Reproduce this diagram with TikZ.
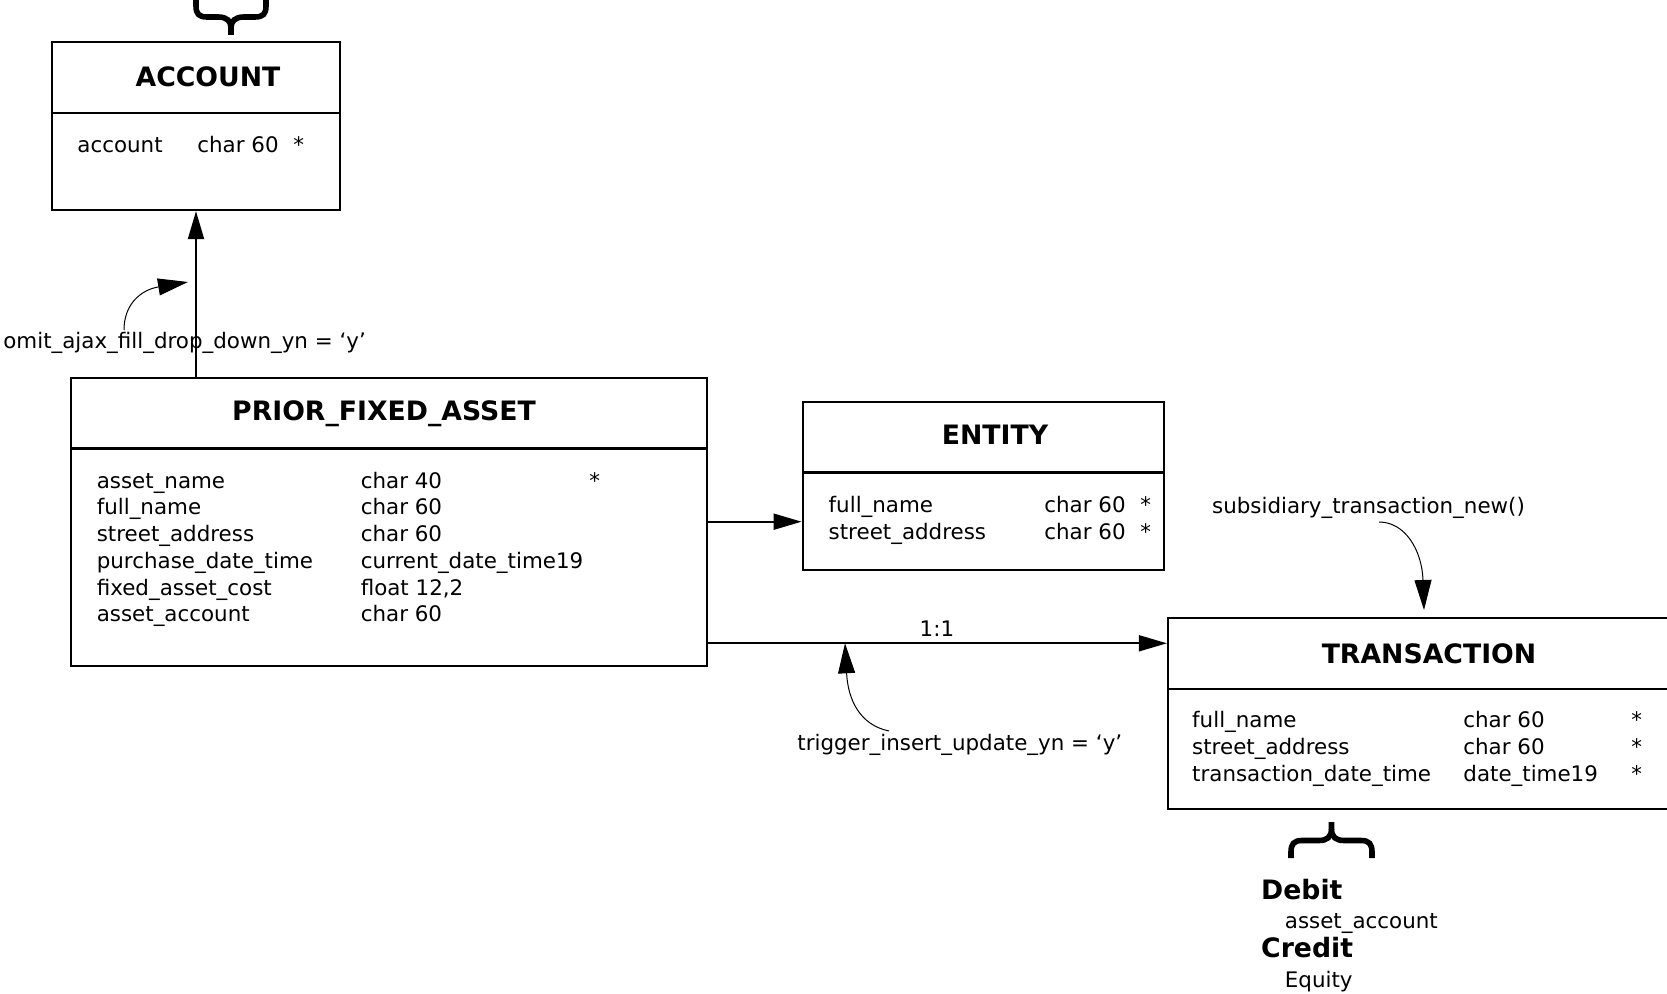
\documentclass[tikz,border=0pt]{standalone}
\usepackage{fontspec}
\setmainfont{DejaVu Sans}
\usetikzlibrary{arrows.meta,positioning}
\tikzset{
  entbox/.style={draw,line width=1.1pt,inner sep=0pt},
  divider/.style={line width=1.1pt},
  titletext/.style={font=\bfseries\fontsize{13.35}{16}\selectfont,anchor=base,inner sep=0pt},
  fieldtext/.style={font=\fontsize{10.7}{13}\selectfont,anchor=base west,inner sep=0pt},
  link/.style={-{Triangle[length=14pt,width=8pt]},line width=0.9pt},
  notearrow/.style={-{Triangle[length=15pt,width=8.5pt]},line width=0.5pt},
  bracestroke/.style={line width=2.8pt},
}

\begin{document}
\begin{tikzpicture}[x=0.5pt,y=-0.5pt]
    \useasboundingbox (0,0) rectangle (1667,994);

    % ACCOUNT
    \node[entbox,minimum width=144pt,minimum height=84pt] (account) at (196,126) {};
    \draw[divider] ([yshift=-36pt]account.north west) -- ([yshift=-36pt]account.north east);
    \node[titletext] (accounttitle) at (208,86.7) {ACCOUNT};
    \node[fieldtext] (accountf1) at (77,153) {account};
    \node[fieldtext] (accountt1) at (197,153) {char 60};
    \node[fieldtext] (accounts1) at (293,153) {*};
    % brace above ACCOUNT
    \draw[bracestroke] (196,-4) -- (196,6) .. controls (196,14) and (199,17) .. (207,17)
        -- (218,17) .. controls (227,17) and (231,21) .. (231,28) -- (231,35);
    \draw[bracestroke] (266,-4) -- (266,6) .. controls (266,14) and (263,17) .. (255,17)
        -- (244,17) .. controls (235,17) and (231,21) .. (231,28);

    % PRIOR_FIXED_ASSET
    \node[entbox,minimum width=318pt,minimum height=144pt] (pfa) at (389,521.7) {};
    \draw[divider] ([yshift=-36pt]pfa.north west) -- ([yshift=-36pt]pfa.north east);
    \node[titletext] (pfatitle) at (384,420.7) {PRIOR\_FIXED\_ASSET};
    \foreach \fname/\ftype [count=\i] in {asset\_name/char 40, full\_name/char 60,
        street\_address/char 60, purchase\_date\_time/current\_date\_time19,
        fixed\_asset\_cost/{float 12,2}, asset\_account/char 60} {
        \node[fieldtext] (pfaf\i) at (96.4,{488.3+26.7*(\i-1)}) {\fname};
        \node[fieldtext] (pfat\i) at (360.4,{488.3+26.7*(\i-1)}) {\ftype};
    }
    \node[fieldtext] (pfas1) at (589,488.3) {*};

    % ENTITY
    \node[entbox,minimum width=180.65pt,minimum height=84.15pt] (entity) at (983.35,485.85) {};
    \draw[divider] ([yshift=-36pt]entity.north west) -- ([yshift=-36pt]entity.north east);
    \node[titletext] (entitytitle) at (995,444.3) {ENTITY};
    \foreach \fname [count=\i] in {full\_name, street\_address} {
        \node[fieldtext] (entityf\i) at (828.3,{512.7+26.6*(\i-1)}) {\fname};
        \node[fieldtext] (entityt\i) at (1044,{512.7+26.6*(\i-1)}) {char 60};
        \node[fieldtext] (entitys\i) at (1140,{512.7+26.6*(\i-1)}) {*};
    }

    % TRANSACTION
    \node[entbox,minimum width=261pt,minimum height=95.5pt] (trans) at (1429,713.8) {};
    \draw[divider] ([yshift=-36pt]trans.north west) -- ([yshift=-36pt]trans.north east);
    \node[titletext] (transtitle) at (1429,663.3) {TRANSACTION};
    \foreach \fname/\ftype [count=\i] in {full\_name/char 60, street\_address/char 60,
        transaction\_date\_time/date\_time19} {
        \node[fieldtext] (transf\i) at (1191.8,{727.7+27*(\i-1)}) {\fname};
        \node[fieldtext] (transt\i) at (1463,{727.7+27*(\i-1)}) {\ftype};
        \node[fieldtext] (transs\i) at (1631,{727.7+27*(\i-1)}) {*};
    }
    % brace below TRANSACTION
    \draw[bracestroke] (1291,858) -- (1291,852) .. controls (1291,844) and (1294,840.5) .. (1302,840.5)
        -- (1319,840.5) .. controls (1327,840.5) and (1331.5,837) .. (1331.5,829) -- (1331.5,822);
    \draw[bracestroke] (1372,858) -- (1372,852) .. controls (1372,844) and (1369,840.5) .. (1361,840.5)
        -- (1344,840.5) .. controls (1336,840.5) and (1331.5,837) .. (1331.5,829);
    \node[titletext,anchor=base west] (debit) at (1260.8,899) {Debit};
    \node[fieldtext] (debitacct) at (1284.5,928.3) {asset\_account};
    \node[titletext,anchor=base west] (credit) at (1260.8,957.7) {Credit};
    \node[fieldtext] (creditacct) at (1284.5,987) {Equity};

    % links
    \draw[link] (pfa.north -| account.south) -- (account.south);
    \draw[link] (pfa.east) -- (pfa.east -| entity.west);
    \coordinate (pfaout) at (707,643.3);
    \draw[link] (pfaout) -- (pfaout -| trans.west)
        node[fieldtext,midway,anchor=base,yshift=3.3pt] (onetoone) {1:1};

    % notes
    \node[fieldtext] (omitnote) at (3,348.3) {omit\_ajax\_fill\_drop\_down\_yn = ‘y’};
    \coordinate (omitfrom) at (124,330);
    \coordinate (omittip) at (188,282);
    \draw[notearrow] (omitfrom) .. controls (124,305) and (140,290) .. (omittip);

    \node[fieldtext] (triggernote) at (797,750.7) {trigger\_insert\_update\_yn = ‘y’};
    \coordinate (triggerfrom) at (889,731);
    \coordinate (triggertip) at (845,643.3);
    \draw[notearrow] (triggerfrom) .. controls (860,725) and (848,700) .. (triggertip);

    \node[fieldtext] (subnote) at (1211.7,513.3) {subsidiary\_transaction\_new()};
    \coordinate (subfrom) at (1379,522);
    \coordinate (subtip) at (1424,610);
    \draw[notearrow] (subfrom) .. controls (1405,522) and (1422,550) .. (subtip);
\end{tikzpicture}
\end{document}
